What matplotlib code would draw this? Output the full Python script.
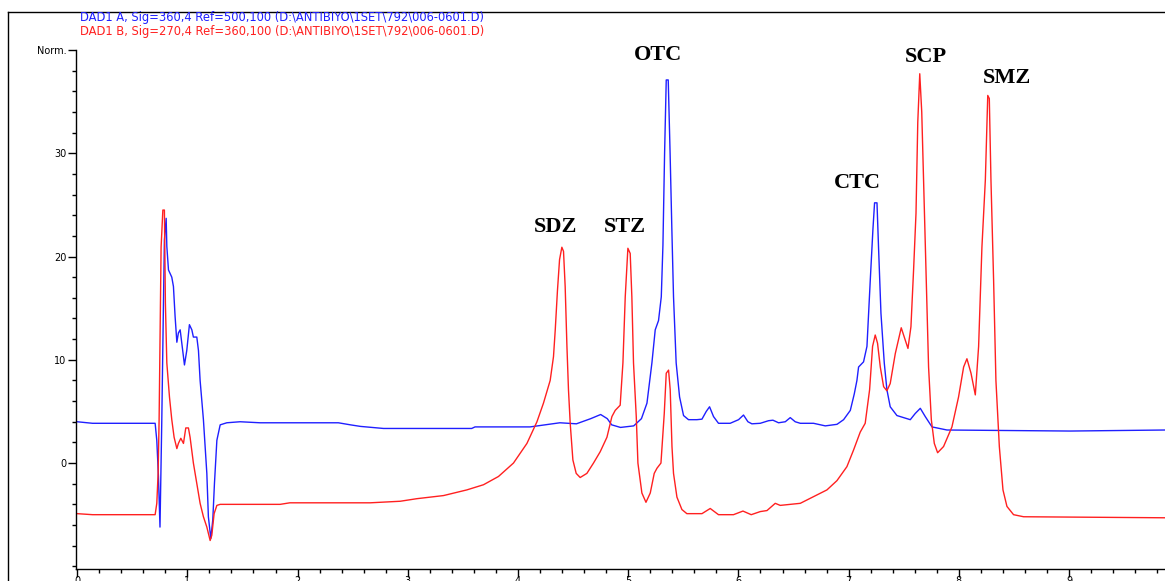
import numpy as np
import matplotlib
matplotlib.use('Agg')
import matplotlib.pyplot as plt
from matplotlib.lines import Line2D
from matplotlib.ticker import MultipleLocator

# DAD1 A (360 nm) - digitised (time min, signal)
t_a = [0.0, 0.14, 0.708, 0.723, 0.738, 0.752, 0.768, 0.783, 0.792, 0.808, 0.814,
       0.829, 0.859, 0.874, 0.889, 0.905, 0.919, 0.935, 0.950, 0.974, 0.995,
       1.019, 1.041, 1.055, 1.086, 1.101, 1.116, 1.146, 1.177, 1.191, 1.213,
       1.231, 1.246, 1.268, 1.298, 1.358, 1.479, 1.66, 2.37, 2.48, 2.57, 2.78,
       3.58, 3.61, 3.93, 4.11, 4.38, 4.53, 4.66, 4.75, 4.81, 4.85, 4.93, 5.05,
       5.12, 5.17, 5.215, 5.245, 5.275, 5.30, 5.315, 5.33, 5.345, 5.363, 5.38,
       5.396, 5.411, 5.435, 5.466, 5.502, 5.547, 5.623, 5.669, 5.708, 5.738,
       5.774, 5.819, 5.925, 6.001, 6.046, 6.086, 6.122, 6.198, 6.273, 6.313,
       6.364, 6.425, 6.47, 6.515, 6.561, 6.681, 6.788, 6.894, 6.954, 7.015,
       7.051, 7.075, 7.09, 7.135, 7.166, 7.196, 7.22, 7.235, 7.257, 7.271,
       7.293, 7.323, 7.347, 7.377, 7.438, 7.559, 7.604, 7.65, 7.695, 7.756,
       7.892, 9.01, 9.87]
sig_a = [4.0, 3.85, 3.85, 2.2, -1.3, -6.2, 3.9, 15.1, 21.6, 23.7, 21.0,
         18.7, 18.0, 17.1, 14.2, 11.7, 12.6, 12.9, 11.6, 9.5, 10.9,
         13.4, 12.9, 12.2, 12.2, 10.9, 8.0, 4.2, -1.0, -5.2, -7.3,
         -5.5, -2.0, 2.2, 3.7, 3.9, 4.0, 3.9, 3.9, 3.7, 3.55, 3.35,
         3.35, 3.5, 3.5, 3.5, 3.9, 3.8, 4.3, 4.7, 4.3, 3.7, 3.45, 3.6,
         4.3, 5.8, 9.7, 12.9, 13.8, 16.1, 21.1, 30.0, 37.1, 37.1, 30.0,
         22.6, 16.1, 9.7, 6.4, 4.6, 4.2, 4.2, 4.25, 5.0, 5.45,
         4.5, 3.85, 3.85, 4.2, 4.65, 4.0, 3.8, 3.85, 4.1, 4.15,
         3.9, 4.0, 4.4, 4.0, 3.85, 3.85, 3.6, 3.75, 4.2, 5.1,
         6.7, 8.0, 9.3, 9.8, 11.3, 17.7, 22.6, 25.2, 25.2, 20.9,
         14.5, 9.7, 7.1, 5.45, 4.6, 4.2, 4.8, 5.3, 4.5, 3.5,
         3.2, 3.1, 3.2]

# DAD1 B (270 nm)
t_b = [0.0, 0.14, 0.708, 0.723, 0.735, 0.744, 0.753, 0.762, 0.778, 0.792, 0.801,
       0.814, 0.838, 0.859, 0.880, 0.905, 0.919, 0.941, 0.965, 0.986, 1.01,
       1.025, 1.055, 1.086, 1.116, 1.146, 1.177, 1.207, 1.222, 1.243, 1.268,
       1.298, 1.842, 1.93, 2.659, 2.931, 3.083, 3.324, 3.536, 3.687, 3.823,
       3.959, 4.081, 4.172, 4.231, 4.292, 4.322, 4.338, 4.358, 4.377, 4.398,
       4.413, 4.428, 4.444, 4.458, 4.474, 4.498, 4.528, 4.564, 4.625, 4.685,
       4.746, 4.807, 4.852, 4.882, 4.927, 4.952, 4.973, 4.997, 5.018, 5.033,
       5.048, 5.073, 5.088, 5.124, 5.161, 5.2, 5.236, 5.261, 5.297, 5.327,
       5.345, 5.366, 5.381, 5.397, 5.411, 5.442, 5.487, 5.532, 5.669, 5.744,
       5.819, 5.955, 6.041, 6.116, 6.198, 6.259, 6.334, 6.379, 6.47, 6.561,
       6.681, 6.803, 6.894, 6.984, 7.044, 7.105, 7.15, 7.19, 7.217, 7.241,
       7.262, 7.287, 7.317, 7.347, 7.377, 7.423, 7.477, 7.513, 7.538, 7.565,
       7.589, 7.611, 7.627, 7.645, 7.663, 7.68, 7.704, 7.725, 7.75, 7.777,
       7.807, 7.861, 7.937, 7.997, 8.043, 8.073, 8.11, 8.149, 8.179, 8.209,
       8.24, 8.262, 8.276, 8.291, 8.315, 8.336, 8.367, 8.40, 8.436, 8.496,
       8.587, 9.87]
sig_b = [-4.9, -5.0, -5.0, -3.9, -1.0, 4.2, 12.6, 20.9, 24.5, 24.5, 15.5,
         9.7, 6.4, 4.2, 2.5, 1.4, 1.9, 2.4, 1.9, 3.4, 3.4,
         2.5, 0.0, -2.0, -3.9, -5.2, -6.2, -7.5, -7.0, -4.9, -4.1,
         -4.0, -4.0, -3.85, -3.85, -3.7, -3.45, -3.15, -2.6, -2.1, -1.3,
         0.0, 1.9, 4.0, 5.8, 8.0, 10.3, 12.9, 16.7, 19.7, 20.9,
         20.5, 17.1, 11.3, 7.1, 3.8, 0.3, -1.0, -1.4, -1.0, 0.0,
         1.1, 2.5, 4.5, 5.1, 5.6, 9.7, 16.1, 20.8, 20.3, 16.1,
         9.7, 4.5, 0.0, -2.9, -3.8, -2.9, -1.0, -0.5, 0.0, 4.8,
         8.7, 9.0, 7.1, 1.6, -1.0, -3.3, -4.5, -4.9, -4.9, -4.4,
         -5.0, -5.0, -4.65, -5.0, -4.7, -4.6, -3.9, -4.1, -4.0, -3.9,
         -3.25, -2.6, -1.7, -0.35, 1.25, 3.0, 3.85, 7.1, 11.3, 12.4,
         11.6, 9.3, 7.4, 7.0, 7.7, 10.6, 13.1, 11.9, 11.1, 13.2,
         18.7, 24.2, 33.0, 37.7, 34.0, 27.4, 17.7, 9.3, 4.2, 1.9,
         1.0, 1.6, 3.5, 6.4, 9.3, 10.1, 8.7, 6.6, 11.3, 20.9,
         27.4, 35.6, 35.3, 27.4, 17.7, 8.0, 1.6, -2.6, -4.2, -5.0,
         -5.2, -5.3]

peak_names = ['SDZ', 'STZ', 'OTC', 'CTC', 'SCP', 'SMZ']
peak_x = [4.34, 4.97, 5.27, 7.08, 7.70, 8.44]
peak_y = [22.4, 22.4, 39.0, 26.6, 38.85, 36.8]

W, H = 1165, 581
fig = plt.figure(figsize=(W / 100, H / 100), dpi=100)
ax = fig.add_axes([76 / W, 12 / H, (W - 76) / W, (569 - 50) / H])

ax.plot(t_a, sig_a, color='#1f1fff', lw=1.0)
ax.plot(t_b, sig_b, color='#ff2020', lw=1.0)

ax.set_xlim(-0.01, 9.87)
ax.set_ylim(-10.26, 40)

for s in ['top', 'right']:
    ax.spines[s].set_visible(False)
for s in ['left', 'bottom']:
    ax.spines[s].set_linewidth(1.0)

ax.set_xticks(range(0, 10))
ax.xaxis.set_minor_locator(MultipleLocator(0.2))
ax.set_yticks([0, 10, 20, 30, 40])
ax.set_yticklabels(['0', '10', '20', '30', 'Norm.'])
ax.yaxis.set_minor_locator(MultipleLocator(2))
ax.tick_params(axis='both', which='major', direction='out', length=6, width=1,
               labelsize=7, pad=1)
ax.tick_params(axis='x', which='major', pad=-1)
ax.tick_params(axis='both', which='minor', direction='out', length=3, width=1)
ax.text(9.78, -11.7, 'min', fontsize=7, ha='left', va='top', clip_on=False)

for name, x, y in zip(peak_names, peak_x, peak_y):
    ax.text(x, y, name, fontsize=16, fontweight='bold', family='Liberation Serif',
            ha='center', va='baseline', clip_on=False)

fig.text(80 / W, 1 - 17 / H,
         'DAD1 A, Sig=360,4 Ref=500,100 (D:\\ANTIBIYO\\1SET\\792\\006-0601.D)',
         color='#1f1fff', fontsize=8.3, va='center', ha='left')
fig.text(80 / W, 1 - 31 / H,
         'DAD1 B, Sig=270,4 Ref=360,100 (D:\\ANTIBIYO\\1SET\\792\\006-0601.D)',
         color='#ff2020', fontsize=8.3, va='center', ha='left')

# outer frame
fig.add_artist(Line2D([8 / W, 8 / W], [0, 1 - 12 / H], color='black', lw=1.0))
fig.add_artist(Line2D([8 / W, 1], [1 - 12 / H, 1 - 12 / H], color='black', lw=1.0))

fig.savefig('out.png', dpi=100)
